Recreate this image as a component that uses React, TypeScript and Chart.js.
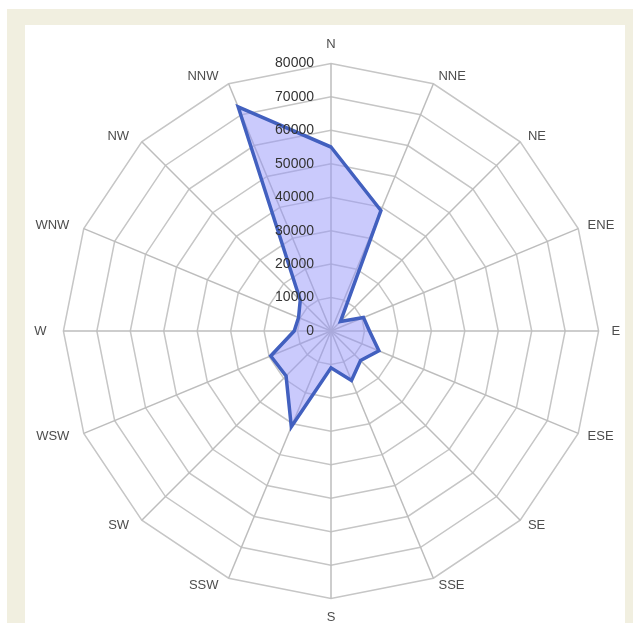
import React, { useEffect, useRef } from "react";
import { Chart, registerables } from "chart.js";

Chart.register(...registerables);

const directions = ["N", "NNE", "NE", "ENE", "E", "ESE", "SE", "SSE", "S", "SSW", "SW", "WSW", "W", "WNW", "NW", "NNW"];
const frequency = [55000, 39000, 4000, 10500, 11500, 15500, 12500, 16000, 11000, 31000, 19000, 19500, 11000, 10500, 13000, 72500];
const tickValues = [0, 10000, 20000, 30000, 40000, 50000, 60000, 70000, 80000];
const tickLabels = ["0", "10000", "20000", "30000", "40000", "50000", "60000", "70000", "80000"];

const labelPlugin = {
  id: "customLabels",
  afterDatasetsDraw(chart: any) {
    const scale = chart.scales.r;
    const ctx = chart.ctx;
    ctx.save();
    ctx.font = "14px 'Liberation Sans'";
    ctx.fillStyle = "#333333";
    ctx.textAlign = "right";
    ctx.textBaseline = "middle";
    tickValues.forEach((v, i) => {
      const d = scale.getDistanceFromCenterForValue(v);
      ctx.fillText(tickLabels[i], scale.xCenter - 17, scale.yCenter - d);
    });
    ctx.font = "13px 'Liberation Sans'";
    ctx.fillStyle = "#4d4d4d";
    const r = scale.getDistanceFromCenterForValue(80000);
    const n = directions.length;
    directions.forEach((lab, i) => {
      const cardinal = i % 4 === 0;
      const a = (i / n) * Math.PI * 2;
      const s = Math.sin(a);
      const c = Math.cos(a);
      const vertical = Math.abs(s) < 0.01;
      const horizontal = Math.abs(c) < 0.01;
      const p = scale.getPointPosition(i, r + (cardinal ? 13 : 8));
      let dx = 0;
      if (!cardinal) dx = s > 0 ? 2 : -7;
      else if (s < -0.5) dx = -4;
      let dy = 0;
      if (vertical) dy = c > 0 ? -6 : 6;
      ctx.textAlign = vertical ? "center" : s > 0 ? "left" : "right";
      ctx.textBaseline = "middle";
      ctx.fillText(lab, p.x + dx, p.y + dy);
      void horizontal;
    });
    ctx.restore();
  },
};

export default function App() {
  const ref = useRef<HTMLCanvasElement | null>(null);
  useEffect(() => {
    if (!ref.current) return;
    const chart = new Chart(ref.current, {
      type: "radar",
      data: {
        labels: directions,
        datasets: [
          {
            data: frequency,
            backgroundColor: "rgba(150,150,250,0.5)",
            borderColor: "#4260bf",
            borderWidth: 3.5,
            pointRadius: 0,
            fill: true,
          },
        ],
      },
      options: {
        responsive: false,
        animation: false,
        layout: { padding: 4 },
        plugins: { legend: { display: false }, tooltip: { enabled: false } },
        scales: {
          r: {
            min: 0,
            max: 80000,
            ticks: { stepSize: 10000, display: false },
            grid: { color: "#c6c6c6", lineWidth: 1.5 },
            angleLines: { color: "#bdbdbd", lineWidth: 1.5 },
            pointLabels: {
              font: { family: "Liberation Sans", size: 12 },
              color: "rgba(0,0,0,0)",
              padding: 14,
            },
          },
        },
      },
      plugins: [labelPlugin],
    });
    return () => chart.destroy();
  }, []);

  return (
    <div style={{ position: "fixed", left: 0, top: 0, width: 634, height: 623, background: "#ffffff", overflow: "hidden" }}>
      <div style={{ position: "absolute", left: 7, top: 9, width: 626, height: 700, background: "#f1efe0" }} />
      <div style={{ position: "absolute", left: 25, top: 25, width: 600, height: 700, background: "#ffffff" }} />
      <canvas ref={ref} width={600} height={600} style={{ position: "absolute", left: 30, top: 31, width: 600, height: 600 }} />
    </div>
  );
}
